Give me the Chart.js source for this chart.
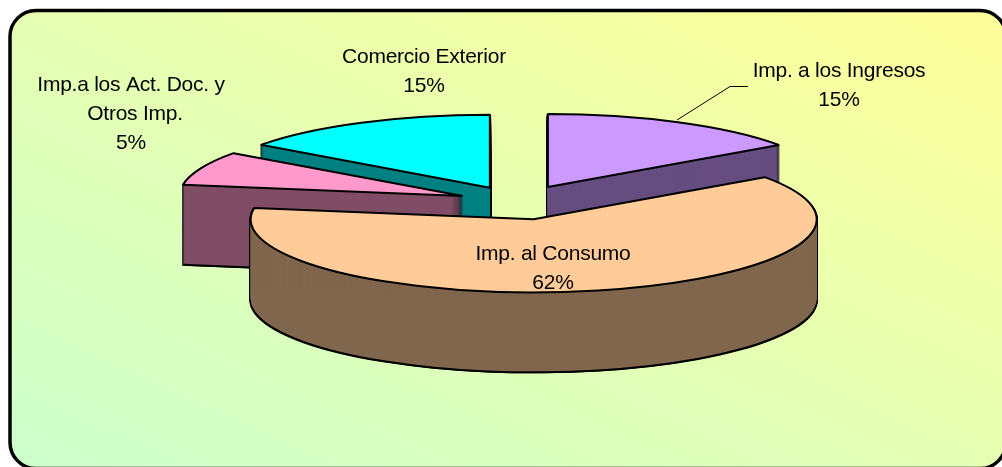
<!DOCTYPE html>
<html>
<head>
<meta charset="utf-8">
<title>Recaudacion</title>
<script src="https://cdn.jsdelivr.net/npm/chart.js@4"></script>
<style>
  html, body { margin: 0; padding: 0; background: #fff; }
  #wrap { width: 1002px; height: 467px; overflow: hidden; }
</style>
</head>
<body>
<div id="wrap"><canvas id="pieChart" width="1002" height="467"></canvas></div>
<script>
const categories = ['Imp. a los Ingresos', 'Imp. al Consumo', 'Imp.a los Act. Doc. y Otros Imp.', 'Comercio Exterior'];
const sliceShares = [15.2, 62.3, 7.5, 15]; // angle of each slice
const percentLabels = ['15%', '62%', '5%', '15%']; // printed labels
const topColors = ['#CC99FF', '#FFCC99', '#FF99CC', '#00FFFF'];
const wallColors = ['#664D80', '#80664D', '#804D66', '#008080'];
const explode = [65, 69, 60, 62];

const tilt = 0.258;
const depth = 79;
const wallOrder = [0, 3, 2, 1]; // back to front

function flatten(ctx, center, dx, dy) {
  ctx.translate(center.x + dx, center.y + dy);
  ctx.scale(1, tilt);
  ctx.translate(-center.x, -center.y);
}

function drawCopy(ctx, arc, center, color, dx, dy) {
  const copy = Object.create(arc);
  copy.options = { ...arc.options, backgroundColor: color, borderWidth: 0 };
  ctx.save();
  flatten(ctx, center, dx, dy);
  copy.draw(ctx);
  ctx.restore();
}

const pie3d = {
  id: 'pie3d',
  afterDatasetsUpdate(chart) {
    const arcs = chart.getDatasetMeta(0).data;
    chart.pieCenter = { x: arcs[0].x, y: arcs[0].y };
    // pull the slices out along their middle angle
    arcs.forEach((arc, i) => {
      const mid = (arc.startAngle + arc.endAngle) / 2;
      arc.x += Math.cos(mid) * explode[i];
      arc.y += Math.sin(mid) * explode[i];
    });
  },
  beforeDraw(chart) {
    const ctx = chart.ctx;
    const grad = ctx.createLinearGradient(334, 617, 680, -139);
    grad.addColorStop(0, '#CCFFCC');
    grad.addColorStop(1, '#FFFF99');
    ctx.save();
    ctx.beginPath();
    ctx.roundRect(10, 10.5, 996, 458, 26);
    ctx.fillStyle = grad;
    ctx.fill();
    ctx.lineWidth = 3.5;
    ctx.strokeStyle = '#000';
    ctx.stroke();
    ctx.restore();
  },
  beforeDatasetsDraw(chart) {
    const ctx = chart.ctx;
    const arcs = chart.getDatasetMeta(0).data;
    wallOrder.forEach(i => {
      const arc = arcs[i];
      // black copies first, they leave the outline of the wall
      for (let dy = 0; dy <= depth + 2; dy++) {
        drawCopy(ctx, arc, chart.pieCenter, '#000', -1.2, dy);
        drawCopy(ctx, arc, chart.pieCenter, '#000', 1.2, dy);
      }
      for (let dy = 0; dy <= depth; dy++) {
        drawCopy(ctx, arc, chart.pieCenter, wallColors[i], 0, dy);
      }
    });
    // keep the border of the top faces even after the flattening
    ctx.stroke = function () {
      const m = ctx.getTransform();
      ctx.setTransform(1, 0, 0, 1, 0, 0);
      CanvasRenderingContext2D.prototype.stroke.call(ctx);
      ctx.setTransform(m);
    };
    ctx.save();
    flatten(ctx, chart.pieCenter, 0, 0);
  },
  afterDatasetsDraw(chart) {
    const ctx = chart.ctx;
    ctx.restore();
    delete ctx.stroke;
  },
  afterDraw(chart, args, opts) {
    const ctx = chart.ctx;
    ctx.save();
    ctx.beginPath();
    ctx.moveTo(677, 120);
    ctx.lineTo(730, 86.5);
    ctx.lineTo(748, 86.5);
    ctx.lineWidth = 1;
    ctx.strokeStyle = '#000';
    ctx.stroke();
    ctx.fillStyle = '#000';
    ctx.font = opts.font;
    ctx.letterSpacing = opts.letterSpacing;
    ctx.textAlign = 'center';
    ctx.textBaseline = 'alphabetic';
    opts.spots.forEach((spot, i) => {
      const lines = spot.lines.concat(percentLabels[i]);
      lines.forEach((line, n) => {
        ctx.fillText(line, spot.xs ? spot.xs[n] : spot.x, spot.y + n * 29);
      });
    });
    ctx.restore();
  }
};

new Chart(document.getElementById('pieChart'), {
  type: 'pie',
  plugins: [pie3d],
  data: {
    labels: categories,
    datasets: [{
      data: sliceShares,
      backgroundColor: topColors,
      borderColor: '#000',
      borderWidth: 2,
      clip: false
    }]
  },
  options: {
    responsive: false,
    animation: false,
    radius: 283,
    layout: { padding: { left: 34, bottom: 63 } },
    plugins: {
      legend: { display: false },
      tooltip: { enabled: false },
      pie3d: {
        font: '21px "Liberation Sans"',
        letterSpacing: '-0.25px',
        spots: [
          { lines: ['Imp. a los Ingresos'], x: 839, y: 77 },
          { lines: ['Imp. al Consumo'], x: 553, y: 260 },
          { lines: ['Imp.a los Act. Doc. y', 'Otros Imp.'], xs: [131, 135, 131], y: 91 },
          { lines: ['Comercio Exterior'], x: 424, y: 63 }
        ]
      }
    }
  }
});
</script>
</body>
</html>
